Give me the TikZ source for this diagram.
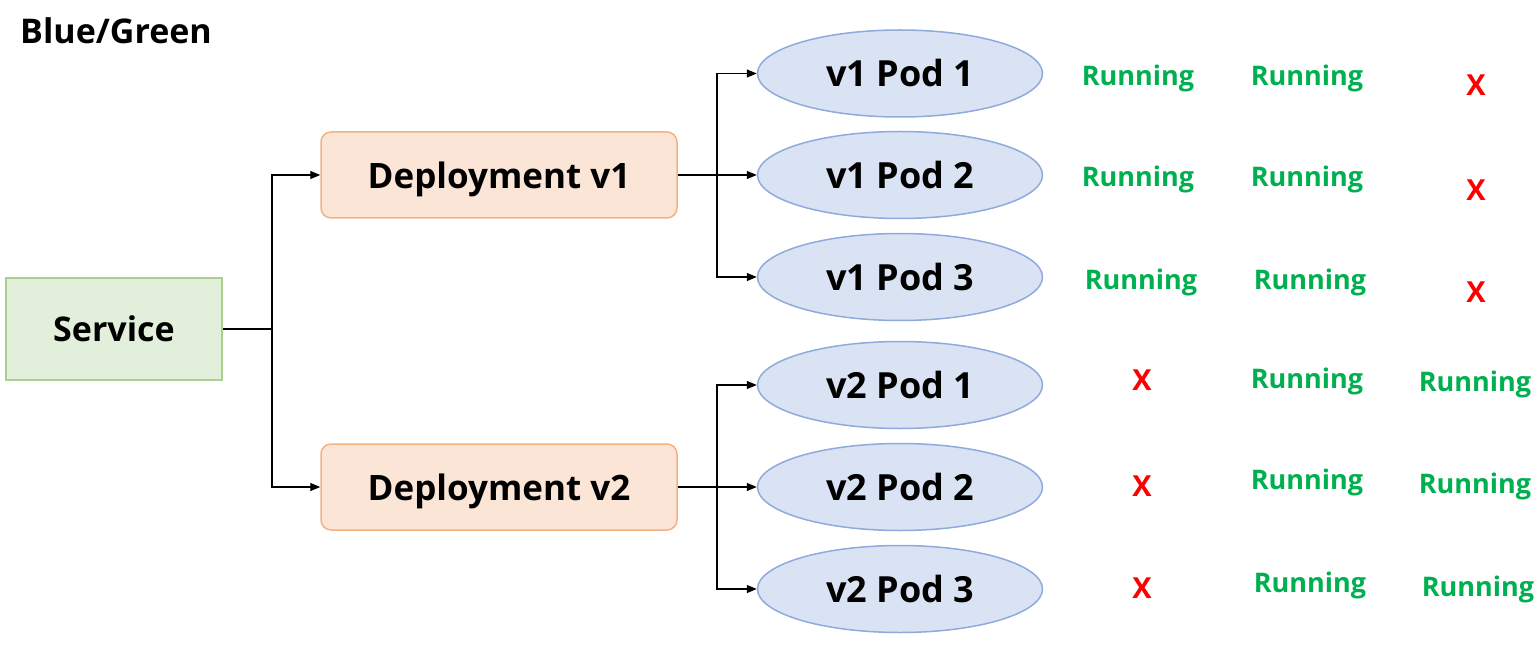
\documentclass[tikz,border=0pt]{standalone}
\usepackage{fontspec}
\setmainfont{Open Sans}
\usetikzlibrary{shapes.geometric,arrows.meta}
\definecolor{svcfill}{HTML}{E2EFDA}
\definecolor{svcline}{HTML}{A9D18E}
\definecolor{depfill}{HTML}{FBE5D6}
\definecolor{depline}{HTML}{F4B183}
\definecolor{podfill}{HTML}{DAE3F3}
\definecolor{podline}{HTML}{8FAADC}
\definecolor{rungreen}{HTML}{00B050}
\definecolor{xred}{HTML}{FF0000}
\begin{document}
\begin{tikzpicture}[x=1pt,y=-1pt,
  svc/.style={draw=svcline,fill=svcfill,line width=1.5pt,minimum width=216pt,minimum height=102pt,inner sep=0pt,font=\fontsize{34}{40}\selectfont\bfseries},
  dep/.style={draw=depline,fill=depfill,line width=1.5pt,rounded corners=10pt,minimum width=356pt,minimum height=86pt,inner sep=0pt,text depth=0pt,font=\fontsize{35}{40}\selectfont\bfseries},
  pod/.style={ellipse,draw=podline,fill=podfill,line width=1.5pt,minimum width=285pt,minimum height=87pt,inner sep=0pt,font=\fontsize{36}{40}\selectfont\bfseries},
  run/.style={text=rungreen,font=\fontsize{27}{32}\selectfont\bfseries,inner sep=0pt,text depth=0pt},
  xx/.style={text=xred,font=\fontsize{29}{34}\selectfont\bfseries,inner sep=0pt},
  conn/.style={draw=black,line width=1.2pt},
  arr/.style={conn,-{Triangle[length=10pt,width=8pt]}}
]
\useasboundingbox (0,0) rectangle (1538,652);
\node[anchor=west,inner sep=0pt,font=\fontsize{34}{40}\selectfont\bfseries] (title) at (20,31) {Blue/Green};

\node[svc] (svc) at (114,329) {Service};
\node[dep] (d1) at (499,175) {Deployment v1};
\node[dep] (d2) at (499,487) {Deployment v2};

\node[pod] (p11) at (900,73.5) {v1 Pod 1};
\node[pod] (p12) at (900,175) {v1 Pod 2};
\node[pod] (p13) at (900,277) {v1 Pod 3};
\node[pod] (p21) at (900,385) {v2 Pod 1};
\node[pod] (p22) at (900,487) {v2 Pod 2};
\node[pod] (p23) at (900,589) {v2 Pod 3};

\coordinate (j0) at (272,329);
\coordinate (j1) at (717,175);
\coordinate (j2) at (717,487);

\draw[conn] (svc.east) -- (j0);
\draw[arr] (j0) |- (d1.west);
\draw[arr] (j0) |- (d2.west);

\draw[arr] (d1.east) -- (p12.west);
\draw[arr] (j1) |- (p11.west);
\draw[arr] (j1) |- (p13.west);

\draw[arr] (d2.east) -- (p22.west);
\draw[arr] (j2) |- (p21.west);
\draw[arr] (j2) |- (p23.west);

% status labels
\node[run] (r11a) at (1138,75) {Running};
\node[run] (r11b) at (1307,75) {Running};
\node[xx]  (r11c) at (1476,85) {X};
\node[run] (r12a) at (1138,176) {Running};
\node[run] (r12b) at (1307,176) {Running};
\node[xx]  (r12c) at (1476,190) {X};
\node[run] (r13a) at (1141,279) {Running};
\node[run] (r13b) at (1310,279) {Running};
\node[xx]  (r13c) at (1476,292) {X};

\node[xx]  (r21a) at (1142,380) {X};
\node[run] (r21b) at (1307,378) {Running};
\node[run] (r21c) at (1475,381) {Running};
\node[xx]  (r22a) at (1142,486) {X};
\node[run] (r22b) at (1307,479) {Running};
\node[run] (r22c) at (1475,483) {Running};
\node[xx]  (r23a) at (1142,588) {X};
\node[run] (r23b) at (1310,582) {Running};
\node[run] (r23c) at (1478,586) {Running};
\end{tikzpicture}
\end{document}
